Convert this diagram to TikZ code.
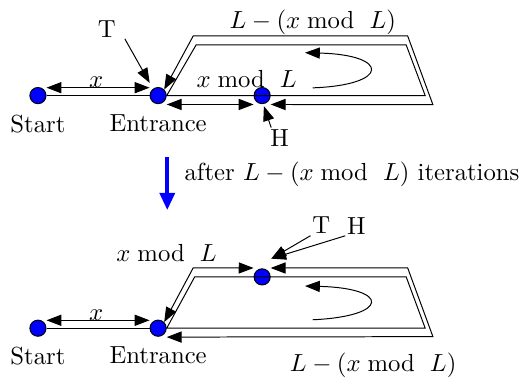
\documentclass[tikz,border=0pt]{standalone}
\usetikzlibrary{arrows.meta}
\begin{document}
\begin{tikzpicture}[
  dot/.style={circle,draw,fill=blue,minimum size=0.23cm,inner sep=0pt},
  tag/.style={inner sep=0.5pt},
  arr/.style={-{Triangle[length=6pt,width=4.5pt]}},
  both/.style={{Triangle[length=6pt,width=4.5pt]}-{Triangle[length=6pt,width=4.5pt]}}]
  \useasboundingbox (0,0) rectangle (7.57,5.39);
  % before
  \node[dot] (start) at (0.54,4.03) {};
  \node[dot] (entr) at (2.25,4.03) {};
  \node[dot] (head) at (3.73,4.03) {};
  \coordinate (c1) at (6.05,4.03);
  \coordinate (c2) at (5.78,4.75);
  \coordinate (c3) at (2.79,4.75);
  \coordinate (d1) at (6.16,3.90);
  \coordinate (d2) at (5.80,4.88);
  \coordinate (d3) at (2.75,4.88);
  \draw (start) -- (entr);
  \draw (entr.east) -- (c1) -- (c2) -- (c3) -- cycle;
  \draw[both] ([yshift=3.2pt]start.east) -- ([yshift=3.2pt]entr.west);
  \draw[both] ([yshift=-3.6pt]entr.east) -- ([yshift=-3.6pt]head.west);
  \draw[both] ([yshift=-3.6pt]head.east) -- (d1) -- (d2) -- (d3) -- (entr.north east);
  \draw[arr] (4.45,4.14) .. controls (5.55,4.18) and (5.55,4.61) .. (4.34,4.64);
  \node (lstart) at (0.54,3.63) {Start};
  \node (lentr) at (2.25,3.63) {Entrance};
  \node (lx) at (1.37,4.22) {$x$};
  \node (lmod) at (3.51,4.26) {$x \bmod\ L$};
  \node (lrest) at (4.45,5.07) {$L-(x \bmod\ L)$};
  \node[tag] (tort) at (1.52,4.98) {T};
  \node[tag] (hare) at (3.98,3.43) {H};
  \coordinate (ttip) at (2.13,4.21);
  \coordinate (htip) at (3.755,3.88);
  \draw[arr] ([xshift=3pt]tort.south east) -- (ttip);
  \draw[arr] ([xshift=1pt]hare.north west) -- (htip);
  % step
  \draw[blue,line width=1.6pt,-{Triangle[length=7pt,width=6pt]}] (2.38,3.16) -- (2.38,2.40);
  \node[anchor=west,inner sep=0pt] (iter) at (2.62,2.91) {after $L-(x \bmod\ L)$ iterations};
  % after
  \node[dot] (start2) at (0.54,0.72) {};
  \node[dot] (entr2) at (2.25,0.72) {};
  \node[dot] (meet) at (3.73,1.45) {};
  \coordinate (e1) at (6.05,0.72);
  \coordinate (e2) at (5.78,1.45);
  \coordinate (e3) at (2.77,1.45);
  \coordinate (f1) at (2.75,1.58);
  \coordinate (g1) at (5.80,1.58);
  \coordinate (g2) at (6.16,0.60);
  \draw (start2) -- (entr2);
  \draw (entr2.east) -- (e1) -- (e2) -- (e3) -- cycle;
  \draw[both] ([yshift=3.2pt]start2.east) -- ([yshift=3.2pt]entr2.west);
  \draw[both] (entr2.north east) -- (f1) -- ([yshift=3.6pt]meet.west);
  \draw[both] ([yshift=3.6pt]meet.east) -- (g1) -- (g2) -- ([yshift=-3.6pt]entr2.east);
  \draw[arr] (4.45,0.84) .. controls (5.55,0.89) and (5.55,1.29) .. (4.34,1.32);
  \node (lstart2) at (0.54,0.33) {Start};
  \node (lentr2) at (2.25,0.33) {Entrance};
  \node (lx2) at (1.37,0.90) {$x$};
  \node (lmod2) at (2.37,1.79) {$x \bmod\ L$};
  \node (lrest2) at (5.31,0.19) {$L-(x \bmod\ L)$};
  \node[tag] (tort2) at (4.57,2.18) {T};
  \node[tag] (hare2) at (5.07,2.18) {H};
  \coordinate (thtip) at (3.86,1.71);
  \draw[arr] (tort2.south west) -- (thtip);
  \draw[arr] (hare2.south west) -- (thtip);
\end{tikzpicture}
\end{document}
